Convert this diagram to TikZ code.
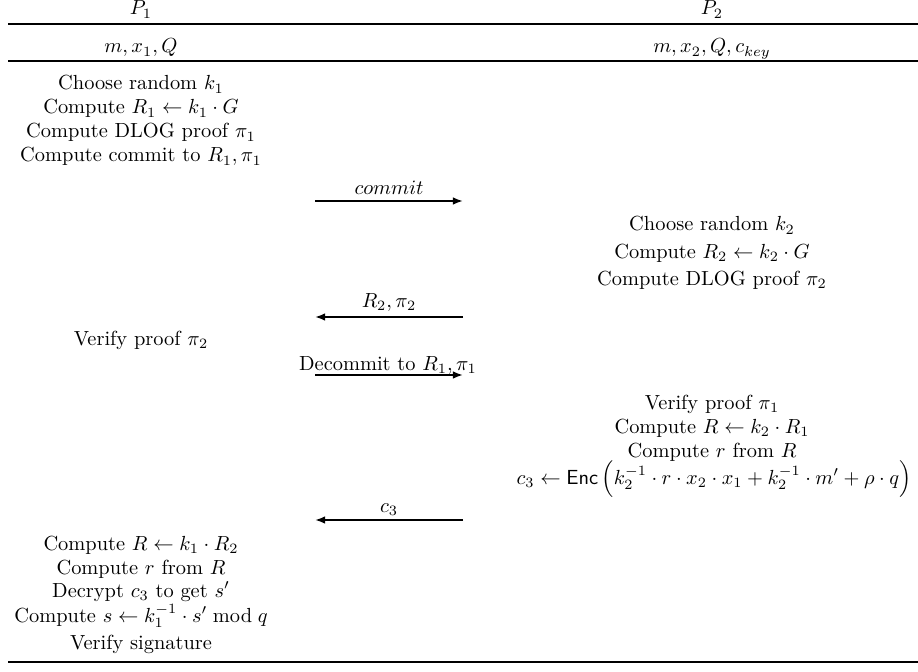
\documentclass[tikz,border=0pt]{standalone}
\usepackage{amsmath,amssymb}
\usepackage{tikz}
\usetikzlibrary{arrows.meta,positioning}

\begin{document}
\begin{tikzpicture}[
    x=0.49pt,y=-0.49pt,
    txt/.style={anchor=base,inner sep=0pt},
    msg/.style={-{Latex[length=5pt,width=3.8pt]},line width=0.9pt},
    hrule/.style={line width=0.85pt}
  ]
    \useasboundingbox (0,0) rectangle (918,672);
    % header rows
    \node[txt] (p1) at (141,15) {$P_1$};
    \node[txt] (p2) at (712,15) {$P_2$};
    \node[txt] (in1) at (141,53) {$m, x_1, Q$};
    \node[txt] (in2) at (712,53) {$m, x_2, Q, c_{key}$};
    \draw[hrule] (8,24) -- (918,24);
    \draw[hrule] (8,61) -- (918,61);
    % P1, first round
    \node[txt] (l1) at (141,90) {Choose random $k_1$};
    \node[txt] (l2) at (141,114) {Compute $R_1 \leftarrow k_1 \cdot G$};
    \node[txt] (l3) at (141,138) {Compute DLOG proof $\pi_1$};
    \node[txt] (l4) at (141,162) {Compute commit to $R_1, \pi_1$};
    \coordinate (m1a) at (315,201);
    \coordinate (m1b) at (463,201);
    \draw[msg] (m1a) -- (m1b);
    \node[txt] (m1) at (389,195) {$commit$};
    % P2, first round
    \node[txt] (r1) at (712,231) {Choose random $k_2$};
    \node[txt] (r2) at (712,258) {Compute $R_2 \leftarrow k_2 \cdot G$};
    \node[txt] (r3) at (712,285) {Compute DLOG proof $\pi_2$};
    \coordinate (m2a) at (315,317);
    \coordinate (m2b) at (463,317);
    \draw[msg] (m2b) -- (m2a);
    \node[txt] (m2) at (389,307) {$R_2, \pi_2$};
    \node[txt] (l5) at (141,345) {Verify proof $\pi_2$};
    \coordinate (m3a) at (315,375);
    \coordinate (m3b) at (463,375);
    \draw[msg] (m3a) -- (m3b);
    \node[txt] (m3) at (388,370) {Decommit to $R_1, \pi_1$};
    % P2, second round
    \node[txt] (r4) at (712,409) {Verify proof $\pi_1$};
    \node[txt] (r5) at (712,433) {Compute $R \leftarrow k_2 \cdot R_1$};
    \node[txt] (r6) at (712,457) {Compute $r$ from $R$};
    \node[txt] (r7) at (714,484)
      {$c_3 \leftarrow \mathsf{Enc}\,\Bigl(k_2^{-1} \cdot r \cdot x_2 \cdot x_1 + k_2^{-1} \cdot m' + \rho \cdot q\Bigr)$};
    \coordinate (m4a) at (315,520);
    \coordinate (m4b) at (463,520);
    \draw[msg] (m4b) -- (m4a);
    \node[txt] (m4) at (389,512) {$c_3$};
    % P1, output
    \node[txt] (l6) at (141,550) {Compute $R \leftarrow k_1 \cdot R_2$};
    \node[txt] (l7) at (141,574) {Compute $r$ from $R$};
    \node[txt] (l8) at (141,597) {Decrypt $c_3$ to get $s'$};
    \node[txt] (l9) at (141,622) {Compute $s \leftarrow k_1^{-1} \cdot s' \bmod q$};
    \node[txt] (l10) at (141,649) {Verify signature};
    \draw[hrule] (8,662) -- (918,662);
\end{tikzpicture}
\end{document}
